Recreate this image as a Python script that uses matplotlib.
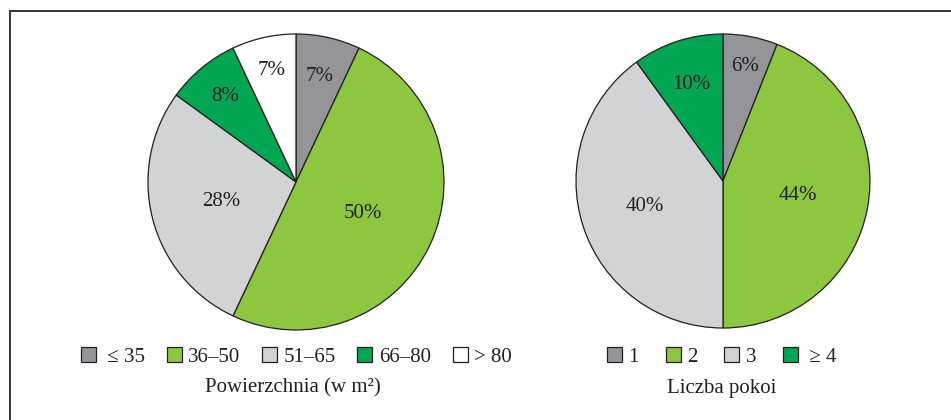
import matplotlib
matplotlib.use('Agg')
from matplotlib import pyplot as plt
from matplotlib.patches import Patch
from matplotlib.lines import Line2D
import numpy as np

plt.rcParams['font.family'] = ['Liberation Serif', 'DejaVu Serif']

# powierzchnia mieszkania (w m2)
area_labels = [' \u2264 35', '36\u201350', '51\u201365', '66\u201380', '> 80']
area_share = [7, 50, 28, 8, 7]

# liczba pokoi
room_labels = ['1', '2', '3', ' \u2265 4']
room_share = [6, 44, 40, 10]

GRAY = '#939598'
GREEN = '#8dc63f'
LIGHT = '#d1d3d4'
DARK_GREEN = '#00a651'
TEXT = '#231f20'

area_colors = [GRAY, GREEN, LIGHT, DARK_GREEN, 'white']
room_colors = [GRAY, GREEN, LIGHT, DARK_GREEN]

# how far from the centre each percentage sits (fraction of radius)
area_label_r = [0.73, 0.50, 0.52, 0.75, 0.77]
room_label_r = [0.79, 0.52, 0.56, 0.69]

FS = 15


def draw_pie(ax, values, colors, label_r):
    wedges, _ = ax.pie(values, colors=colors, startangle=90, counterclock=False,
                       radius=1.0, wedgeprops=dict(edgecolor=TEXT, linewidth=0.9))
    for w in wedges:
        w.set_clip_on(False)
    for w, v, r in zip(wedges, values, label_r):
        mid = np.deg2rad((w.theta1 + w.theta2) / 2)
        ax.text(r * np.cos(mid), r * np.sin(mid), f'{v}%', ha='center', va='center',
                fontsize=FS, color=TEXT)
    ax.set_xlim(-1, 1)
    ax.set_ylim(-1, 1)
    ax.set_aspect('equal')
    ax.axis('off')


def draw_legend(fig, labels, colors, x, colspacing):
    handles = [Patch(facecolor=c, edgecolor=TEXT, linewidth=0.9) for c in colors]
    fig.legend(handles, labels, loc='center', bbox_to_anchor=(x, 1 - 357 / 420),
               ncol=len(labels), frameon=False, fontsize=FS, handlelength=0.72,
               handleheight=0.72, handletextpad=0.3, columnspacing=colspacing,
               borderpad=0, labelcolor=TEXT)


fig = plt.figure(figsize=(9.51, 4.2), dpi=100)

ax1 = fig.add_axes([148 / 951, (420 - 330) / 420, 296 / 951, 296 / 420])
draw_pie(ax1, area_share, area_colors, area_label_r)

ax2 = fig.add_axes([576 / 951, (420 - 328) / 420, 294 / 951, 294 / 420])
draw_pie(ax2, room_share, room_colors, room_label_r)

draw_legend(fig, area_labels, area_colors, 296 / 951, 1.05)
draw_legend(fig, room_labels, room_colors, 722 / 951, 1.3)

fig.text(293 / 951, 1 - 388 / 420, 'Powierzchnia (w m\u00b2)', ha='center', va='center',
         fontsize=FS, color=TEXT)
fig.text(722 / 951, 1 - 388 / 420, 'Liczba pokoi', ha='center', va='center',
         fontsize=FS, color=TEXT)

# open frame: left and top edges only
x0, y0 = 9.5 / 951, 1 - 10.5 / 420
fig.add_artist(Line2D([x0, x0, 1], [0, y0, y0], transform=fig.transFigure,
                      color='#333333', linewidth=1.4, solid_joinstyle='miter'))

fig.savefig('out.png', dpi=100)
